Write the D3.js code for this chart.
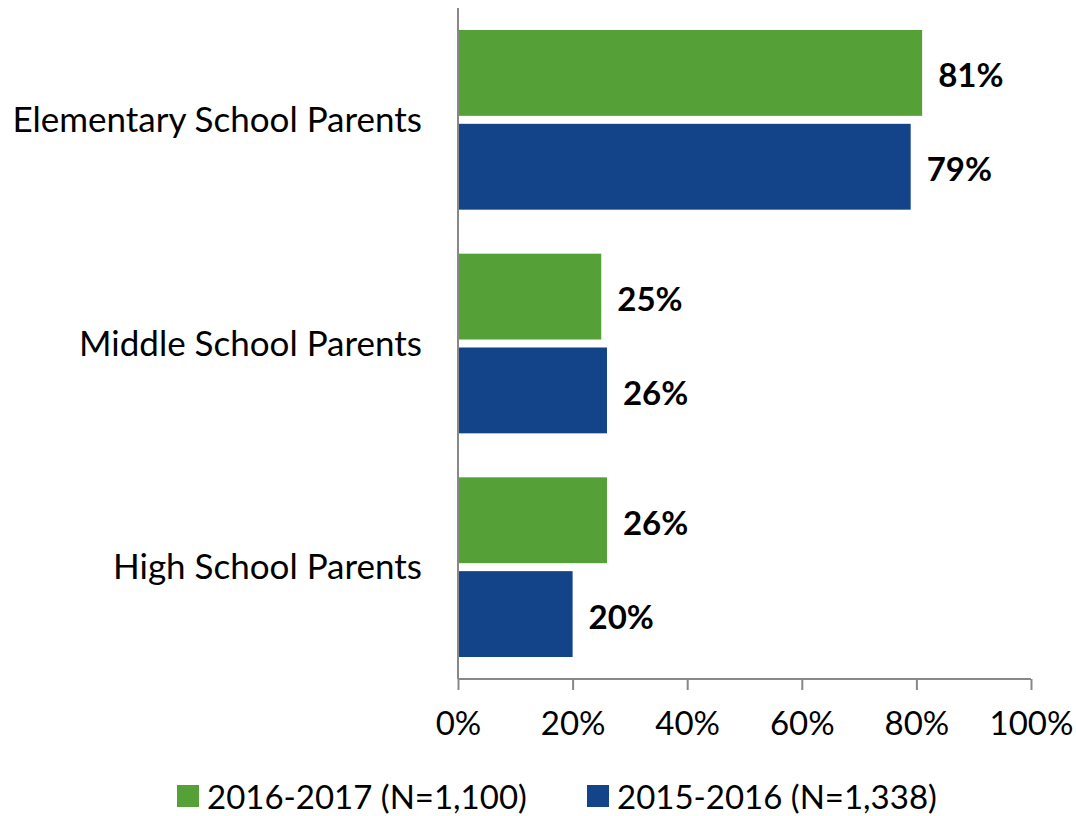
<!DOCTYPE html>
<html><head><meta charset="utf-8">
<script src="https://cdn.jsdelivr.net/npm/d3@7"></script>
<style>body{margin:0;background:#fff}svg{display:block;font-family:Lato,"Open Sans",sans-serif}</style>
</head><body>
<svg id="c" width="1076" height="816"></svg>
<script>
const categories = ["Elementary School Parents","Middle School Parents","High School Parents"];
const seriesNames = ["2016-2017 (N=1,100)","2015-2016 (N=1,338)"];
const values2016 = [81,25,26];
const values2015 = [79,26,20];
const tickValues = [0,20,40,60,80,100];
const colors = ["#56A038","#134389"];

const svg = d3.select("#c");
const x = d3.scaleLinear().domain([0,100]).range([458,1031]);
const y0 = d3.scaleBand().domain(categories).range([8,679]).padding(0);
const y1 = d3.scaleBand().domain(seriesNames).range([22, y0.bandwidth()-22]).paddingInner(0.085).paddingOuter(0);
const series = [values2016, values2015];

const g = svg.append("g");
categories.forEach((c,i)=>{
  seriesNames.forEach((s,j)=>{
    const v = series[j][i];
    const yy = y0(c)+y1(s);
    g.append("rect").attr("x",x(0)).attr("y",yy).attr("width",x(v)-x(0)).attr("height",y1.bandwidth()).attr("fill",colors[j]);
    g.append("text").attr("x",x(v)+16).attr("y",yy+y1.bandwidth()/2+3).attr("dy","0.35em")
      .attr("font-size",33).attr("font-weight","bold").attr("fill","#000").text(v+"%");
  });
  svg.append("text").attr("x",422).attr("y",y0(c)+y0.bandwidth()/2).attr("dy","0.35em")
    .attr("text-anchor","end").attr("font-size",35).attr("fill","#000").text(c);
});

// axes
const xAxis = d3.axisBottom(x).tickValues(tickValues).tickFormat(d=>d+"%").tickSize(11).tickPadding(22);
const ax = svg.append("g").attr("transform","translate(0,679)").call(xAxis);
ax.select(".domain").attr("stroke","#888").attr("stroke-width",2).attr("d","M458,0H1031");
ax.selectAll(".tick line").attr("stroke","#888").attr("stroke-width",2);
ax.selectAll(".tick text").attr("font-size",33).attr("fill","#000").attr("font-family","Lato,'Open Sans',sans-serif");
svg.append("line").attr("x1",458).attr("x2",458).attr("y1",8).attr("y2",679).attr("stroke","#888").attr("stroke-width",2);

// legend
const leg = [{x:177,tx:207},{x:587,tx:617}];
seriesNames.forEach((s,j)=>{
  svg.append("rect").attr("x",leg[j].x).attr("y",785).attr("width",22).attr("height",22).attr("fill",colors[j]);
  svg.append("text").attr("x",leg[j].tx).attr("y",797).attr("dy","0.35em").attr("font-size",33).attr("fill","#000").text(s);
});
</script>
</body></html>
